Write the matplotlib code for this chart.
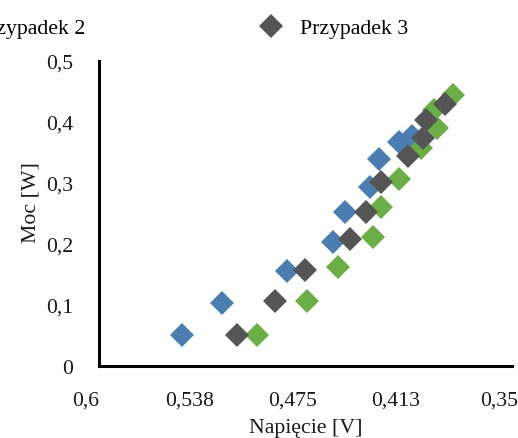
import matplotlib
matplotlib.use("Agg")
import matplotlib.pyplot as plt
from matplotlib.ticker import FixedLocator, FixedFormatter
from matplotlib.transforms import ScaledTranslation

# Napięcie [V] / Moc [W] for each case
p1_u = [0.5496, 0.5254, 0.4865, 0.4586, 0.4513, 0.4362, 0.4308, 0.4186, 0.4107]
p1_p = [0.051, 0.103, 0.155, 0.203, 0.252, 0.294, 0.340, 0.368, 0.377]

p2_u = [0.5041, 0.4738, 0.4556, 0.4343, 0.4295, 0.4186, 0.4052, 0.3955, 0.3973, 0.3858]
p2_p = [0.051, 0.106, 0.162, 0.212, 0.261, 0.306, 0.358, 0.390, 0.420, 0.444]

p3_u = [0.5163, 0.4932, 0.4756, 0.4483, 0.4386, 0.4296, 0.4131, 0.4040, 0.4022, 0.3907]
p3_p = [0.051, 0.106, 0.158, 0.2075, 0.253, 0.301, 0.345, 0.374, 0.404, 0.430]

series_names = ["Przypadek 1", "Przypadek 2", "Przypadek 3"]
colors = ["#4A7EB0", "#6BAE45", "#555555"]

x_ticks = [0.6, 0.5375, 0.475, 0.4125, 0.35]
x_labels = ["0,6", "0,538", "0,475", "0,413", "0,35"]
y_ticks = [0, 0.1, 0.2, 0.3, 0.4, 0.5]
y_labels = ["0", "0,1", "0,2", "0,3", "0,4", "0,5"]

plt.rcParams["font.family"] = ["Liberation Serif", "DejaVu Serif"]
FS = 15.7
TXT = "#1a1a1a"

W, H = 518, 439
fig = plt.figure(figsize=(W / 100, H / 100), dpi=100)
ax = fig.add_axes([99 / W, 1 - 367 / H, (512 - 99) / W, (367 - 62) / H])

handles = []
for u, p, c, name in zip([p1_u, p2_u, p3_u], [p1_p, p2_p, p3_p], colors, series_names):
    h, = ax.plot(u, p, linestyle="none", marker="D", markersize=12.5,
                 color=c, markeredgewidth=0, label=name)
    handles.append(h)

ax.set_xlim(0.6, 0.35)
ax.set_ylim(0, 0.5)
ax.xaxis.set_major_locator(FixedLocator(x_ticks))
ax.xaxis.set_major_formatter(FixedFormatter(x_labels))
ax.yaxis.set_major_locator(FixedLocator(y_ticks))
ax.yaxis.set_major_formatter(FixedFormatter(y_labels))
ax.tick_params(axis="both", length=0, labelsize=FS, colors=TXT)
ax.tick_params(axis="x", pad=18)
ax.tick_params(axis="y", pad=18.5)

# category-style labels sit slightly left of their tick positions
shift_left = ScaledTranslation(-13 / 100, 0, fig.dpi_scale_trans)
for lbl in ax.get_xticklabels():
    lbl.set_transform(lbl.get_transform() + shift_left)

for side in ("top", "right"):
    ax.spines[side].set_visible(False)
for side in ("left", "bottom"):
    ax.spines[side].set_linewidth(2.2)
    ax.spines[side].set_color("black")

ax.set_xlabel("Napięcie [V]", fontsize=FS, color=TXT, labelpad=6)
ax.set_ylabel("Moc [W]", fontsize=FS, color=TXT, labelpad=4, y=0.54)

# Legend row across the top; the last entry's text starts at x=300 px
def make_legend(colspace, anchor_x):
    return fig.legend(handles=handles, loc="center left", ncol=3,
                      bbox_to_anchor=(anchor_x, 1 - 29 / H), frameon=False,
                      fontsize=FS, handlelength=1.0, handletextpad=0.85,
                      columnspacing=colspace, borderaxespad=0, borderpad=0)

fs_px = FS * 100 / 72
leg = make_legend(8.0, -0.5)
fig.canvas.draw()
r = fig.canvas.get_renderer()
t = leg.get_texts()
gap = t[2].get_window_extent(r).x0 - t[1].get_window_extent(r).x1
cs = 8.0 + (215 - gap) / fs_px
leg.remove()
leg = make_legend(cs, -0.5)
fig.canvas.draw()
t = leg.get_texts()
shift = 300 - t[2].get_window_extent(r).x0
leg.remove()
leg = make_legend(cs, -0.5 + shift / W)

fig.savefig("out.png", dpi=100)
